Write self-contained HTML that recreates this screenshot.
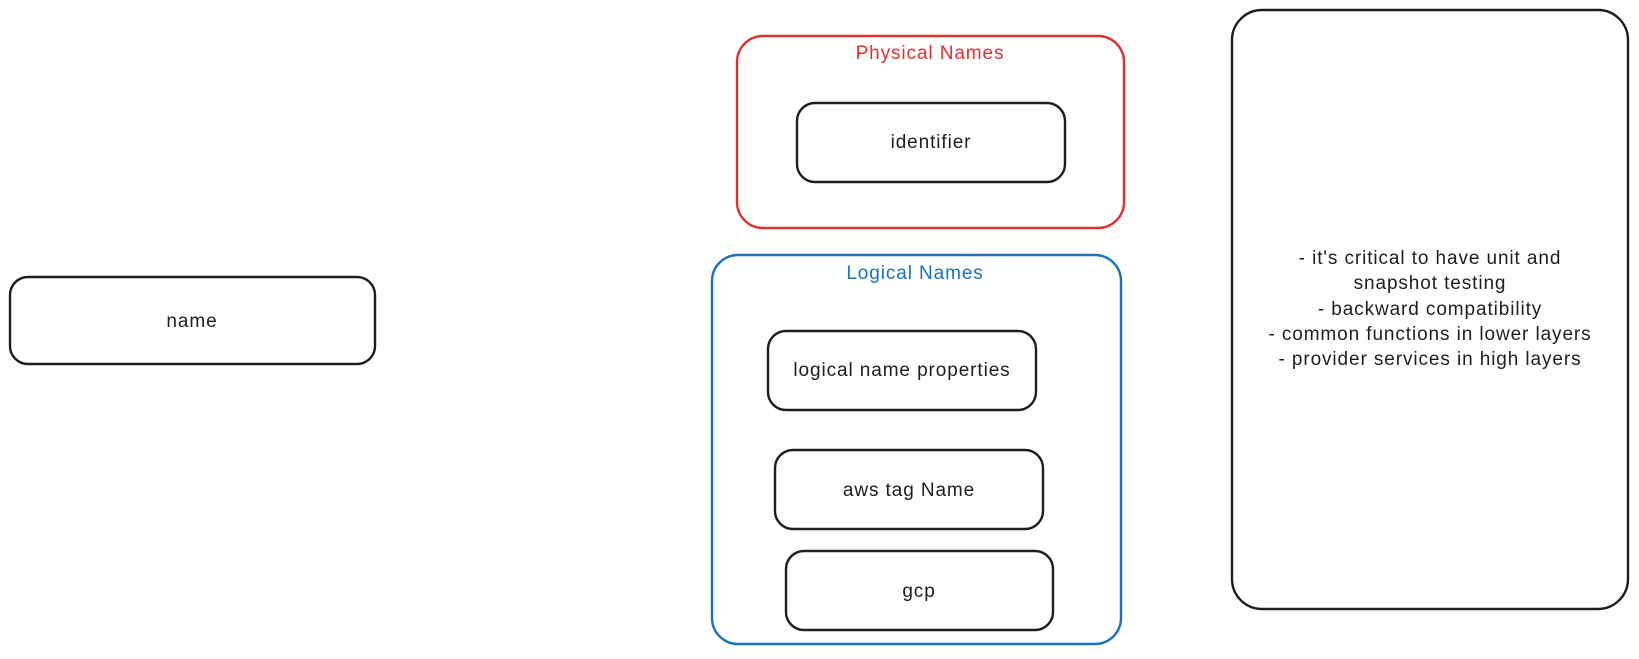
<!DOCTYPE html>
<html><head><meta charset="utf-8"><style>
html,body{margin:0;padding:0;background:#fff;}
body{width:1639px;height:654px;overflow:hidden;}
svg text{font-family:"Liberation Sans",sans-serif;font-size:19px;letter-spacing:0.9px;}
</style></head><body>
<svg width="1639" height="654" xmlns="http://www.w3.org/2000/svg">
<g fill="none" stroke-width="2.4">
<rect x="10" y="277" width="365" height="87" rx="18" stroke="#1e1e1e"/>
<rect x="737" y="36" width="387" height="192" rx="26" stroke="#e03131"/>
<rect x="797" y="103" width="268" height="79" rx="18" stroke="#1e1e1e"/>
<rect x="712" y="255" width="409" height="389" rx="26" stroke="#1971c2"/>
<rect x="768" y="331" width="268" height="79" rx="18" stroke="#1e1e1e"/>
<rect x="775" y="450" width="268" height="79" rx="18" stroke="#1e1e1e"/>
<rect x="786" y="551" width="267" height="79" rx="18" stroke="#1e1e1e"/>
<rect x="1232" y="10" width="396" height="599" rx="30" stroke="#1e1e1e"/>
</g>
<g text-anchor="middle" fill="#1e1e1e">
<text x="192" y="327">name</text>
<text x="930" y="59" fill="#e03131">Physical Names</text>
<text x="931" y="148">identifier</text>
<text x="915" y="279" fill="#1971c2">Logical Names</text>
<text x="902" y="376">logical name properties</text>
<text x="909" y="496">aws tag Name</text>
<text x="919" y="597">gcp</text>
<text x="1430" y="264">- it's critical to have unit and</text>
<text x="1430" y="289">snapshot testing</text>
<text x="1430" y="315">- backward compatibility</text>
<text x="1430" y="340">- common functions in lower layers</text>
<text x="1430" y="365">- provider services in high layers</text>
</g>
</svg>
</body></html>
